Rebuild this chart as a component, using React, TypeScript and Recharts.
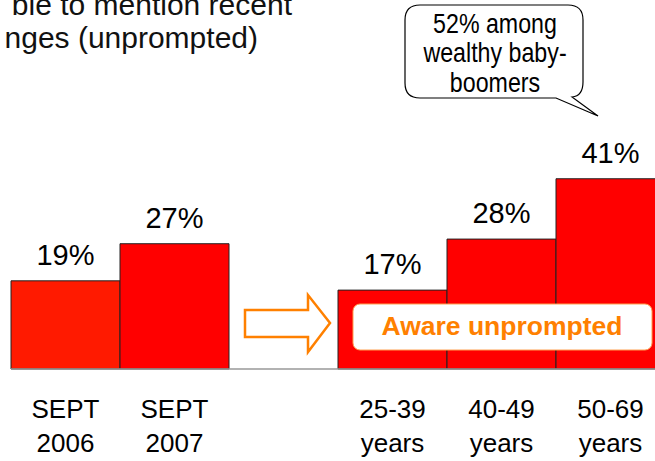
import { BarChart, Bar, XAxis, YAxis, Cell, LabelList } from 'recharts'

// categories (the empty slot is the gap before the age groups)
const categories = ['SEPT 2006', 'SEPT 2007', 'gap', '25-39 years', '40-49 years', '50-69 years']
const tickTop = ['SEPT', 'SEPT', '', '25-39', '40-49', '50-69']
const tickBottom = ['2006', '2007', '', 'years', 'years', 'years']
const awareUnprompted = [19, 27, null, 17, 28, 41]
const barColors = ['#FF1A00', '#FF0000', '#FF0000', '#FF0000', '#FF0000', '#FF0000']

const titleLines = ['ble to mention recent', 'nges (unprompted)']
const bubbleLines = ['52% among', 'wealthy baby-', 'boomers']
const boxLabel = 'Aware unprompted'

const data = categories.map((name, i) => ({ name, value: awareUnprompted[i] }))

const FONT = 'Arial, "Liberation Sans", sans-serif'

function TwoLineTick(props: any) {
  const { x, y, index } = props
  return (
    <g>
      <text x={x} y={y + 49} textAnchor="middle" fontSize={26} fontFamily={FONT} fill="#000">
        {tickTop[index]}
      </text>
      <text x={x} y={y + 83} textAnchor="middle" fontSize={26} fontFamily={FONT} fill="#000">
        {tickBottom[index]}
      </text>
    </g>
  )
}

export default function App() {
  return (
    <div style={{ position: 'absolute', left: 0, top: 0, width: 655, height: 461, overflow: 'hidden', background: '#fff' }}>
      <BarChart
        width={680}
        height={461}
        data={data}
        margin={{ top: 137, right: 15, left: 11, bottom: 0 }}
        barCategoryGap={0}
        barGap={0}
      >
        <XAxis
          dataKey="name"
          height={92}
          interval={0}
          tickLine={false}
          tickSize={0}
          tickMargin={0}
          axisLine={{ stroke: '#999', strokeWidth: 1.5 }}
          tick={<TwoLineTick />}
        />
        <YAxis hide domain={[0, 50]} />
        <Bar dataKey="value" stroke="#222" strokeWidth={1} isAnimationActive={false}>
          {data.map((d, i) => (
            <Cell key={d.name} fill={barColors[i]} />
          ))}
          <LabelList
            dataKey="value"
            position="top"
            offset={16}
            fontSize={29}
            fontFamily={FONT}
            fill="#000"
            formatter={(v: any) => (v == null ? '' : `${v}%`)}
          />
        </Bar>
      </BarChart>

      <svg width={655} height={461} style={{ position: 'absolute', left: 0, top: 0, pointerEvents: 'none' }}>
        {/* title, cut off on the left like the slide */}
        <text x={292} y={15} textAnchor="end" fontSize={30} fontFamily={FONT} fill="#111">
          {titleLines[0]}
        </text>
        <text x={258} y={48} textAnchor="end" fontSize={30} fontFamily={FONT} fill="#111">
          {titleLines[1]}
        </text>

        {/* callout bubble */}
        <path
          d="M 420 5 H 568 Q 583 5 583 20 V 82 Q 583 96 572 97 L 598 116 L 556 98 H 420 Q 405 98 405 83 V 20 Q 405 5 420 5 Z"
          fill="#fff"
          stroke="#000"
          strokeWidth={1.2}
        />
        {bubbleLines.map((t, i) => (
          <text
            key={t}
            x={0}
            y={33 + i * 29.5}
            transform="translate(495 0) scale(0.86 1)"
            textAnchor="middle"
            fontSize={27}
            fontFamily={FONT}
            fill="#000"
          >
            {t}
          </text>
        ))}

        {/* block arrow */}
        <path
          d="M 245 310 H 308 V 295 L 330 323 L 308 352 V 337 H 245 Z"
          fill="#fff"
          stroke="#FF8000"
          strokeWidth={2.5}
        />

        {/* label box */}
        <rect x={353} y={304} width={299} height={46} rx={7} fill="#fff" stroke="#FFA050" strokeWidth={1} />
        <text x={502} y={335} textAnchor="middle" fontSize={26.5} fontWeight="bold" fontFamily={FONT} fill="#FF8000">
          {boxLabel}
        </text>
      </svg>
    </div>
  )
}
